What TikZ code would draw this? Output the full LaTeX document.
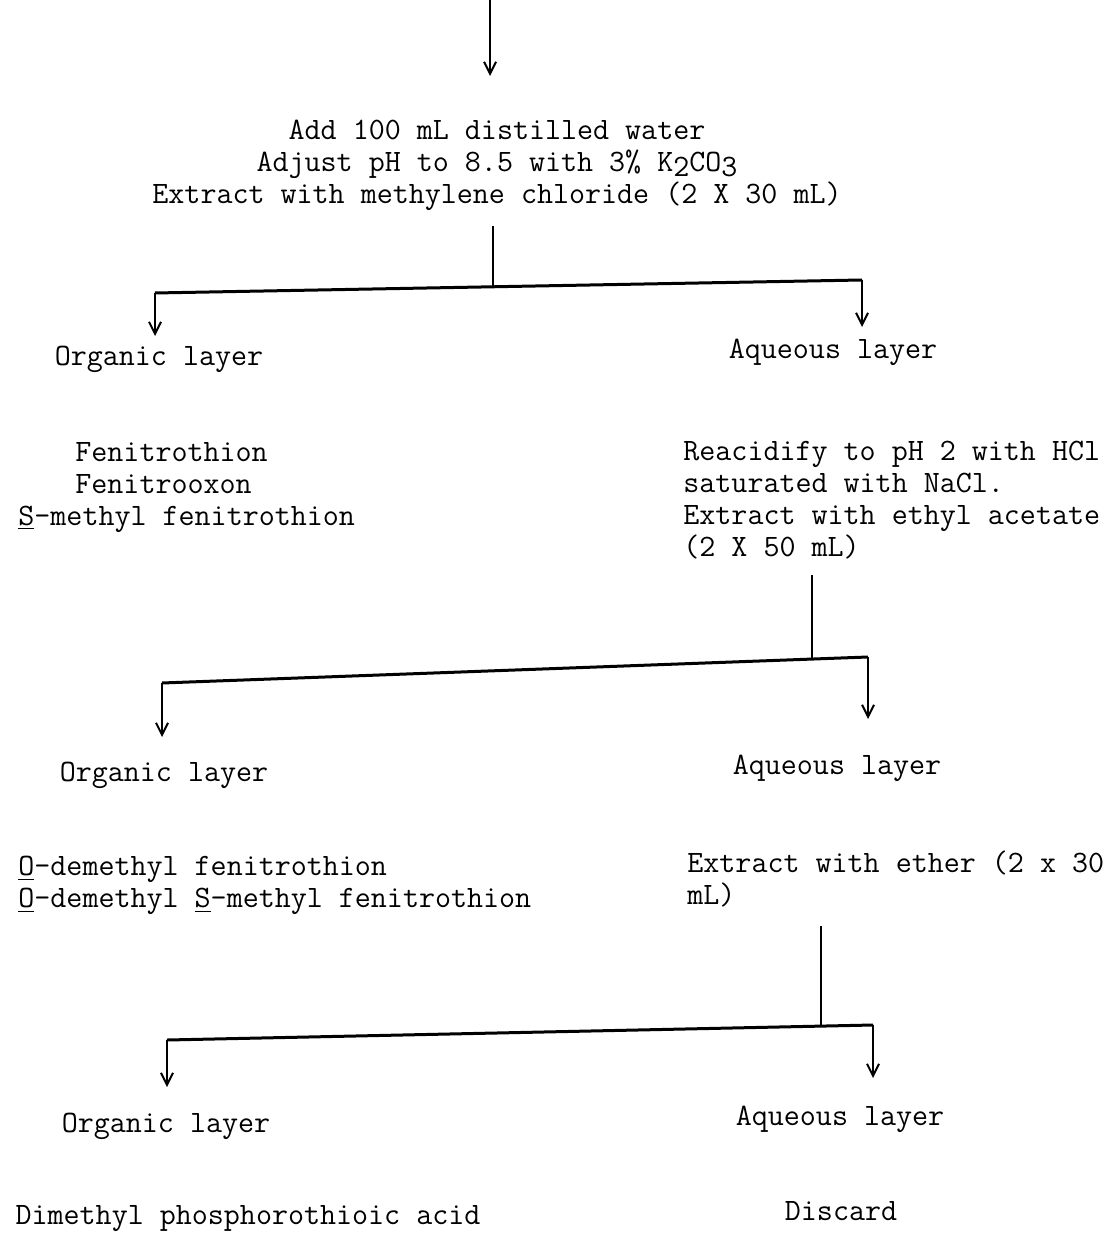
\documentclass[tikz,border=0pt]{standalone}
\usepackage{fontspec}
\usetikzlibrary{arrows.meta}
\begin{document}
\begin{tikzpicture}[x=0.5pt, y=-0.5pt,
        every node/.style={inner sep=0pt, font=\ttfamily\fontsize{15.56}{16}\selectfont}]
        \tikzstyle{line}=[line width=1pt]
        \tikzstyle{bar}=[line width=1.5pt]
        \tikzstyle{arr}=[line width=1pt, -{Straight Barb[length=6pt, width=6pt]}]
        \useasboundingbox (0,0) rectangle (1108,1234);
        % Level 1
        \node[anchor=north, align=center] (step1) at (497,120)
        {Add 100 mL distilled water\\
        Adjust pH to 8.5 with 3\% K\raisebox{-2.5pt}{2}CO\raisebox{-2.5pt}{3}\\
        Extract with methylene chloride (2 X 30 mL)};
        \node[anchor=base] (org1) at (159,366) {Organic layer};
        \node[anchor=base] (aq1) at (833,359) {Aqueous layer};
        \node[anchor=north west, align=left] (res1) at (18,442)
        {\hspace*{28.5pt}Fenitrothion\\
        \hspace*{28.5pt}Fenitrooxon\\
        \underline{S}-methyl fenitrothion};
        % Level 2
        \node[anchor=north west, align=left] (step2) at (683,441)
        {Reacidify to pH 2 with HCl\\
        saturated with NaCl.\\
        Extract with ethyl acetate\\
        (2 X 50 mL)};
        \node[anchor=base] (org2) at (164,781) {Organic layer};
        \node[anchor=base] (aq2) at (837,774) {Aqueous layer};
        \node[anchor=north west, align=left] (res2) at (18,856)
        {\underline{O}-demethyl fenitrothion\\
        \underline{O}-demethyl \underline{S}-methyl fenitrothion};
        % Level 3
        \node[anchor=north west, align=left] (step3) at (687,850)
        {Extract with ether (2 x 30\\
        mL)};
        \node[anchor=base] (org3) at (166,1132) {Organic layer};
        \node[anchor=base] (aq3) at (840,1125) {Aqueous layer};
        \node[anchor=base] (res3) at (248,1224) {Dimethyl phosphorothioic acid};
        \node[anchor=base] (disc) at (841,1220) {Discard};
        % split points
        \coordinate (in) at (490,0);
        \coordinate (in1) at (490,76);
        \coordinate (s1) at (493,226);
        \coordinate (b1) at (493,287);
        \coordinate (l1) at (155,293);
        \coordinate (r1) at (862,280);
        \coordinate (l1e) at (155,336);
        \coordinate (r1e) at (862,327);
        \coordinate (s2) at (812,575);
        \coordinate (b2) at (812,659);
        \coordinate (l2) at (162,683);
        \coordinate (r2) at (868,657);
        \coordinate (l2e) at (162,737);
        \coordinate (r2e) at (868,719);
        \coordinate (s3) at (821,926);
        \coordinate (b3) at (821,1027);
        \coordinate (l3) at (167,1040);
        \coordinate (r3) at (873,1025);
        \coordinate (l3e) at (167,1087);
        \coordinate (r3e) at (873,1078);
        % connectors
        \draw[arr] (in) -- (in1);
        \draw[line] (s1) -- (b1);
        \draw[bar] (l1) -- (r1);
        \draw[arr] (l1) -- (l1e);
        \draw[arr] (r1) -- (r1e);
        \draw[line] (s2) -- (b2);
        \draw[bar] (l2) -- (r2);
        \draw[arr] (l2) -- (l2e);
        \draw[arr] (r2) -- (r2e);
        \draw[line] (s3) -- (b3);
        \draw[bar] (l3) -- (r3);
        \draw[arr] (l3) -- (l3e);
        \draw[arr] (r3) -- (r3e);
\end{tikzpicture}
\end{document}
